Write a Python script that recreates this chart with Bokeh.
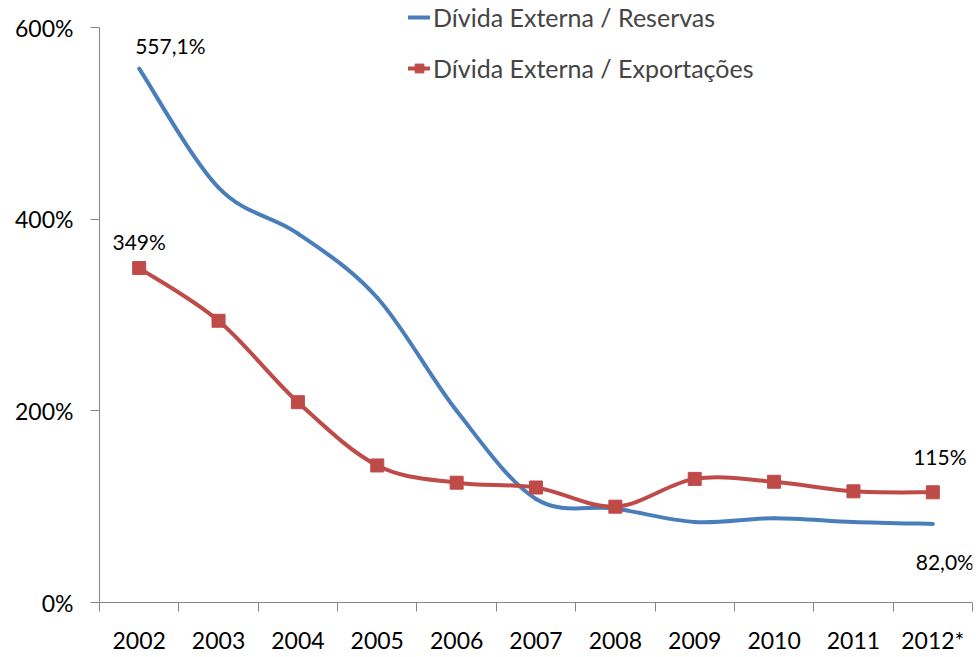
from bokeh.plotting import figure
from bokeh.models import Range1d, FixedTicker, Legend, LegendItem, ColumnDataSource
from bokeh.core.properties import value
from bokeh.embed import file_html
from bokeh.resources import INLINE

years = ["2002", "2003", "2004", "2005", "2006", "2007", "2008", "2009", "2010", "2011", "2012*"]
reservas = [557.1, 433, 385, 318, 200, 108, 98, 84, 88, 84, 82.0]
exportacoes = [349, 294, 209, 143, 125, 120, 100, 129, 126, 116, 115]
y_ticks = [0, 200, 400, 600]
y_tick_labels = ["0%", "200%", "400%", "600%"]
series_names = ["Dívida Externa / Reservas", "Dívida Externa / Exportações"]

BLUE = "#4A7EBB"
RED = "#BE4B48"
FONT = "Lato"
AXIS_COLOR = "#868686"

xs = [i + 0.5 for i in range(len(years))]
Y_MAX = y_ticks[-1]
# frame spans 602 px; 600% sits 27 px below the frame top (room for the legend)
y_top = Y_MAX * 602.0 / 575.0


def smooth_segments(x, y, t=1.0 / 6.0):
    n = len(x)
    d = dict(x0=[], y0=[], x1=[], y1=[], cx0=[], cy0=[], cx1=[], cy1=[])
    for i in range(n - 1):
        im1 = max(i - 1, 0)
        ip2 = min(i + 2, n - 1)
        d["x0"].append(x[i]); d["y0"].append(y[i])
        d["x1"].append(x[i + 1]); d["y1"].append(y[i + 1])
        d["cx0"].append(x[i] + (x[i + 1] - x[im1]) * t)
        d["cy0"].append(y[i] + (y[i + 1] - y[im1]) * t)
        d["cx1"].append(x[i + 1] - (x[ip2] - x[i]) * t)
        d["cy1"].append(y[i + 1] - (y[ip2] - y[i]) * t)
    return ColumnDataSource(d)


p = figure(width=974, height=657, output_backend="svg", toolbar_location=None,
           x_range=Range1d(0, len(years)), y_range=Range1d(0, y_top),
           min_border_left=99, min_border_right=2, min_border_top=0, min_border_bottom=55)
p.outline_line_color = None
p.xgrid.grid_line_color = None
p.ygrid.grid_line_color = None
p.background_fill_color = "white"
p.border_fill_color = "white"

# axes
p.yaxis.ticker = FixedTicker(ticks=y_ticks)
p.yaxis.bounds = (0, Y_MAX)
p.yaxis.major_label_overrides = {t: l for t, l in zip(y_ticks, y_tick_labels)}
p.yaxis.minor_tick_line_color = None
p.yaxis.major_tick_out = 9
p.yaxis.major_tick_in = 0
p.yaxis.major_label_standoff = 17

p.xaxis.ticker = FixedTicker(ticks=xs, minor_ticks=list(range(len(years) + 1)))
p.xaxis.major_label_overrides = {x: yr for x, yr in zip(xs, years)}
p.xaxis.major_tick_out = 0
p.xaxis.major_tick_in = 0
p.xaxis.minor_tick_out = 9
p.xaxis.minor_tick_in = 0
p.xaxis.major_label_standoff = 14

for ax in (p.xaxis, p.yaxis):
    ax.axis_line_color = AXIS_COLOR
    ax.major_tick_line_color = AXIS_COLOR
    ax.minor_tick_line_color = AXIS_COLOR
    ax.major_label_text_font = FONT
    ax.major_label_text_font_size = "23px"
    ax.major_label_text_color = "black"

# series
src_b = smooth_segments(xs, reservas)
src_r = smooth_segments(xs, exportacoes)
rb = p.bezier(x0="x0", y0="y0", x1="x1", y1="y1", cx0="cx0", cy0="cy0", cx1="cx1", cy1="cy1",
              source=src_b, line_color=BLUE, line_width=4, line_cap="round")
rr = p.bezier(x0="x0", y0="y0", x1="x1", y1="y1", cx0="cx0", cy0="cy0", cx1="cx1", cy1="cy1",
              source=src_r, line_color=RED, line_width=4, line_cap="round")
rs = p.scatter(xs, exportacoes, marker="square", size=13, fill_color=RED, line_color=RED)

# data labels
lbl_style = dict(text_font=value(FONT), text_font_size="21px", text_color="black",
                 text_baseline="middle")
p.text(x=[xs[0]], y=[reservas[0]], text=["557,1%"], x_offset=-4, y_offset=-23,
       text_align="left", **lbl_style)
p.text(x=[xs[0]], y=[exportacoes[0]], text=["349%"], x_offset=0, y_offset=-27,
       text_align="center", **lbl_style)
p.text(x=[xs[-1]], y=[exportacoes[-1]], text=["115%"], x_offset=7, y_offset=-36,
       text_align="center", **lbl_style)
p.text(x=[xs[-1]], y=[reservas[-1]], text=["82,0%"], x_offset=12, y_offset=38,
       text_align="center", **lbl_style)

legend = Legend(items=[LegendItem(label=series_names[0], renderers=[rb]),
                       LegendItem(label=series_names[1], renderers=[rr, rs])],
                location=(309, 519), orientation="vertical",
                label_text_font=FONT, label_text_font_size="25px",
                glyph_width=22, glyph_height=26, label_standoff=3, spacing=21,
                padding=0, margin=0, border_line_color=None, background_fill_alpha=0)
p.add_layout(legend, "center")

open("out.html", "w").write(file_html(p, INLINE))
